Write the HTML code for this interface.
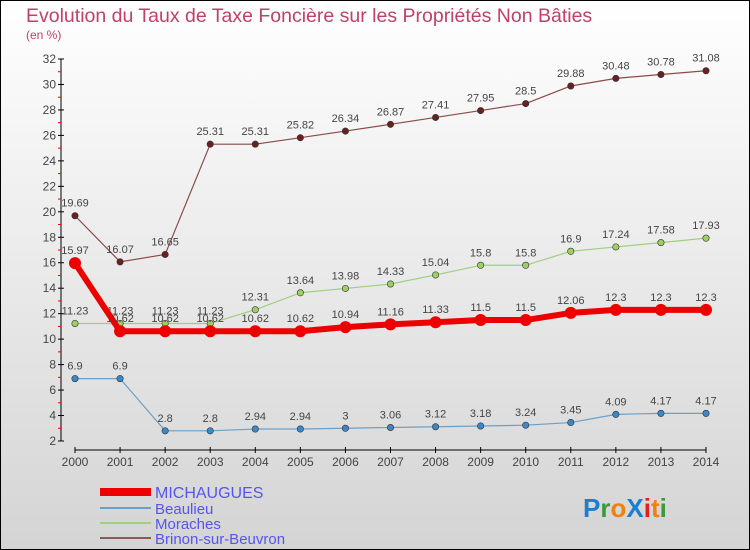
<!DOCTYPE html>
<html><head><meta charset="utf-8"><style>
body{margin:0}
#c{width:750px;height:550px;position:relative;overflow:hidden}
svg text{font-family:"Liberation Sans",sans-serif}
</style></head><body>
<div id="c">
<svg id="s" width="750" height="550" xmlns="http://www.w3.org/2000/svg">
<defs><linearGradient id="bg" x1="0" y1="0" x2="0" y2="1"><stop offset="0" stop-color="#ffffff"/><stop offset="1" stop-color="#d4d4d4"/></linearGradient></defs>
<rect x="0.5" y="0.5" width="749" height="549" fill="url(#bg)" stroke="#000"/>
<text x="26" y="22" font-size="19.5" fill="#c0406a">Evolution du Taux de Taxe Foncière sur les Propriétés Non Bâties</text>
<text x="26" y="39" font-size="12" fill="#c0406a">(en %)</text>
<g id="axes"></g><g id="series"></g>
<g font-size="15" fill="#5555ee">
<line x1="100" y1="492" x2="151" y2="492" stroke="#e00" stroke-width="8"/><text x="155" y="498" font-size="16">MICHAUGUES</text>
<line x1="100" y1="508" x2="151" y2="508" stroke="#6aa0c8" stroke-width="2"/><text x="155" y="514">Beaulieu</text>
<line x1="100" y1="523" x2="151" y2="523" stroke="#9ed080" stroke-width="2"/><text x="155" y="529">Moraches</text>
<line x1="100" y1="538" x2="151" y2="538" stroke="#8a5a5a" stroke-width="2"/><text x="155" y="544">Brinon-sur-Beuvron</text>
</g>
<g font-size="26" font-weight="bold" font-family="Liberation Sans">
<text x="583" y="517"><tspan fill="#1a7fd0">P</tspan><tspan fill="#3a9a3a">r</tspan><tspan fill="#f08010">o</tspan><tspan fill="#1a7fd0">X</tspan><tspan fill="#e02020">i</tspan><tspan fill="#f08010">t</tspan><tspan fill="#3a9a3a">i</tspan></text>
</g>
</svg></div>
<script>
const years=[2000,2001,2002,2003,2004,2005,2006,2007,2008,2009,2010,2011,2012,2013,2014];
const michaugues=[15.97,10.62,10.62,10.62,10.62,10.62,10.94,11.16,11.33,11.5,11.5,12.06,12.3,12.3,12.3];
const beaulieu=[6.9,6.9,2.8,2.8,2.94,2.94,3,3.06,3.12,3.18,3.24,3.45,4.09,4.17,4.17];
const moraches=[11.23,11.23,11.23,11.23,12.31,13.64,13.98,14.33,15.04,15.8,15.8,16.9,17.24,17.58,17.93];
const brinon=[19.69,16.07,16.65,25.31,25.31,25.82,26.34,26.87,27.41,27.95,28.5,29.88,30.48,30.78,31.08];
const yTicks=[2,4,6,8,10,12,14,16,18,20,22,24,26,28,30,32];
const NS='http://www.w3.org/2000/svg';
const X=i=>75+i*(706-75)/(years.length-1);
const Y=v=>441-(v-2)*(441-59)/30;
function el(t,a,p){const e=document.createElementNS(NS,t);for(const k in a)e.setAttribute(k,a[k]);p.appendChild(e);return e;}
const ax=document.getElementById('axes');
el('line',{x1:61,y1:59,x2:61,y2:441,stroke:'#000'},ax);
el('line',{x1:75,y1:450,x2:706,y2:450,stroke:'#000'},ax);
yTicks.forEach(v=>{
  el('line',{x1:58,y1:Y(v),x2:64,y2:Y(v),stroke:'#000'},ax);
  if(v<32)el('line',{x1:58,y1:Y(v+1),x2:61,y2:Y(v+1),stroke:'#e00'},ax);
  const t=el('text',{x:56,y:Y(v)+4,'text-anchor':'end','font-size':12,fill:'#444'},ax);t.textContent=v;
  
  
});
years.forEach((y,i)=>{
  el('line',{x1:X(i),y1:447,x2:X(i),y2:453,stroke:'#000'},ax);
  const t=el('text',{x:X(i),y:466,'text-anchor':'middle','font-size':12,fill:'#444'},ax);t.textContent=y;
  
  
});
const sg=document.getElementById('series');
function series(name,vals,color,dot,w,r,labels){
  const g=el('g',{},sg);
  
  
  el('polyline',{points:vals.map((v,i)=>X(i)+','+Y(v)).join(' '),fill:'none',stroke:color,'stroke-width':w,'stroke-linejoin':'round'},g);
  vals.forEach((v,i)=>{
    const c=el('circle',{cx:X(i),cy:Y(v),r:r,fill:dot,stroke:'#333','stroke-width':r>5?0:0.6},g);
    
    
    if(labels){const t=el('text',{x:X(i),y:Y(v)-9,'text-anchor':'middle','font-size':11,fill:'#444'},g);t.textContent=v;}
  });
}
series('brinon',brinon,'#8a4a4a','#6a2020',1.2,3.2,true);
series('moraches',moraches,'#9ed080','#9ed060',1.2,3.2,true);
series('beaulieu',beaulieu,'#6aa0c8','#3a88c8',1.2,3.2,true);
series('michaugues',michaugues,'#ee0000','#ee0000',6,6,false);
michaugues.forEach((v,i)=>{const t=el('text',{x:X(i),y:Y(v)-9,'text-anchor':'middle','font-size':11,fill:'#444'},sg);t.textContent=v;});
</script>
</body></html>
